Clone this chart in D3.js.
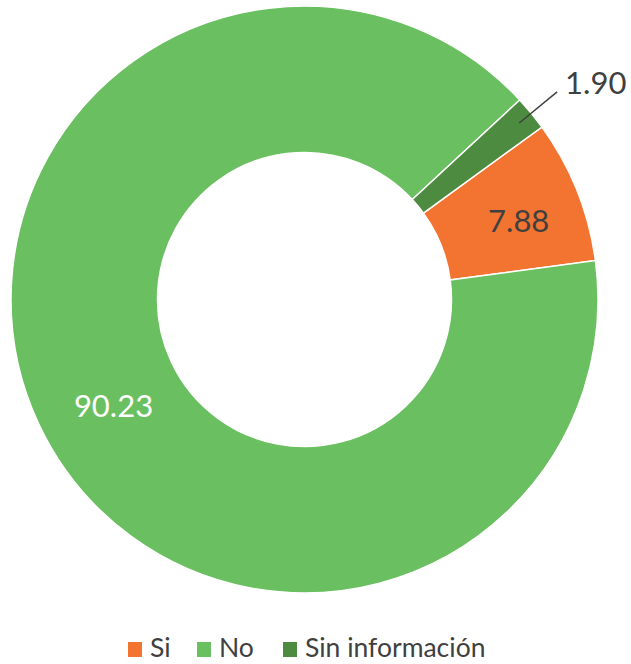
<!DOCTYPE html>
<html>
<head>
    <meta charset="utf-8">
    <script src="https://d3js.org/d3.v7.min.js"></script>
    <style>
        body { margin: 0; background: #fff; }
        text { font-family: Lato, "Open Sans", sans-serif; }
    </style>
</head>
<body>
    <svg id="svg"></svg>
<script type="text/javascript">
    const categories = ['Si', 'No', 'Sin información'];
    const values = [7.88, 90.23, 1.90];
    const labels = ['7.88', '90.23', '1.90'];
    const colors = ['#F37431', '#6ABF60', '#4D8C40'];

    const width = 631;
    const height = 664;
    const cx = 304.5;
    const cy = 299.5;
    const outerR = 293.5;
    const innerR = 147;

    const svg = d3.select('#svg')
        .attr('width', width)
        .attr('height', height);

    const data = categories.map((c, i) => ({ cat: c, value: values[i], label: labels[i], color: colors[i] }));

    const start = 54 * Math.PI / 180;
    const pie = d3.pie()
        .sort(null)
        .value(d => d.value)
        .startAngle(start)
        .endAngle(start + 2 * Math.PI);

    const arc = d3.arc().innerRadius(innerR).outerRadius(outerR);
    const labelArc = d3.arc().innerRadius(220).outerRadius(220);

    const g = svg.append('g').attr('transform', `translate(${cx}, ${cy})`);
    const arcs = pie(data);

    g.selectAll('path')
        .data(arcs)
        .enter()
        .append('path')
        .attr('d', arc)
        .attr('fill', d => d.data.color)
        .attr('stroke', '#fff')
        .attr('stroke-width', 1.5);

    // labels inside for big slices
    const offsets = { 'Si': [10, 2], 'No': [8, 12] };
    g.selectAll('text.inner')
        .data(arcs.filter(d => d.data.cat !== 'Sin información'))
        .enter()
        .append('text')
        .attr('class', 'inner')
        .attr('x', d => labelArc.centroid(d)[0] + offsets[d.data.cat][0])
        .attr('y', d => labelArc.centroid(d)[1] + offsets[d.data.cat][1])
        .attr('text-anchor', 'middle')
        .attr('dominant-baseline', 'central')
        .attr('font-size', 31)
        .attr('fill', d => d.data.cat === 'No' ? '#fff' : '#404040')
        .text(d => d.data.label);

    // small slice: leader line + outside label
    const small = arcs[2];
    const p1 = d3.arc().innerRadius(278).outerRadius(278).centroid(small);
    const p2 = d3.arc().innerRadius(327).outerRadius(327).centroid(small);
    g.append('line')
        .attr('x1', p1[0]).attr('y1', p1[1])
        .attr('x2', p2[0]).attr('y2', p2[1])
        .attr('stroke', '#404040')
        .attr('stroke-width', 1.5);
    g.append('text')
        .attr('x', p2[0] + 8)
        .attr('y', p2[1] - 10)
        .attr('dominant-baseline', 'central')
        .attr('font-size', 31)
        .attr('fill', '#404040')
        .text(small.data.label);

    // legend
    const legendX = [128, 197, 283];
    const legend = svg.selectAll('g.legend')
        .data(data)
        .enter()
        .append('g')
        .attr('class', 'legend')
        .attr('transform', (d, i) => `translate(${legendX[i]}, 642)`);

    legend.append('rect')
        .attr('width', 14)
        .attr('height', 15)
        .attr('fill', d => d.color);

    legend.append('text')
        .attr('x', 22)
        .attr('y', 15)
        .attr('font-size', 26.5)
        .attr('fill', '#404040')
        .text(d => d.cat);
</script>
</body>
</html>
